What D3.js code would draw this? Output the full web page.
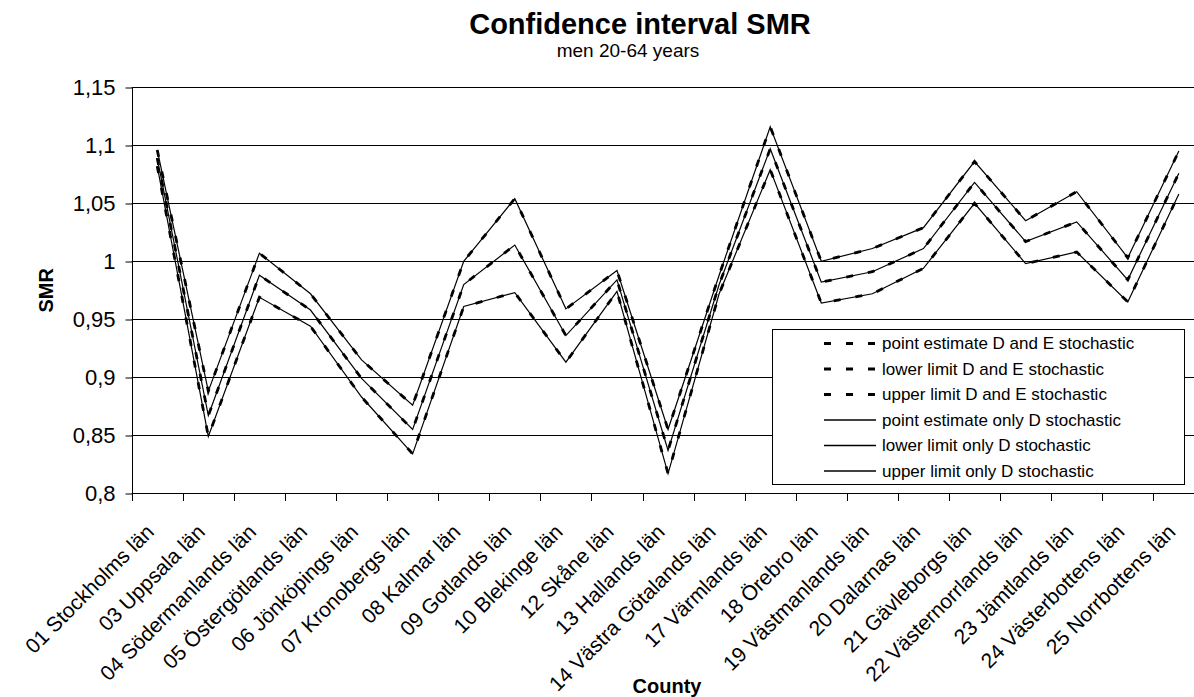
<!DOCTYPE html>
<html>
<head>
<meta charset="utf-8">
<script src="https://cdn.jsdelivr.net/npm/d3@7"></script>
<style>
  body { margin: 0; background: #fff; }
  svg { display: block; font-family: "Liberation Sans", Arial, sans-serif; }
</style>
</head>
<body>
<div id="chart"></div>
<script>
const counties = ["01 Stockholms län", "03 Uppsala län", "04 Södermanlands län", "05 Östergötlands län",
    "06 Jönköpings län", "07 Kronobergs län", "08 Kalmar län", "09 Gotlands län", "10 Blekinge län",
    "12 Skåne län", "13 Hallands län", "14 Västra Götalands län", "17 Värmlands län", "18 Örebro län",
    "19 Västmanlands län", "20 Dalarnas län", "21 Gävleborgs län", "22 Västernorrlands län",
    "23 Jämtlands län", "24 Västerbottens län", "25 Norrbottens län"];

const pointEst = [1.089, 0.867, 0.988, 0.958, 0.899, 0.855, 0.980, 1.014, 0.936, 0.984, 0.837,
    0.980, 1.097, 0.982, 0.991, 1.011, 1.068, 1.017, 1.034, 0.984, 1.076];
const lowerLim = [1.082, 0.849, 0.969, 0.944, 0.883, 0.834, 0.961, 0.973, 0.913, 0.974, 0.817,
    0.972, 1.079, 0.964, 0.972, 0.994, 1.050, 0.998, 1.008, 0.965, 1.058];
const upperLim = [1.096, 0.888, 1.007, 0.972, 0.915, 0.876, 1.000, 1.054, 0.959, 0.992, 0.855,
    0.988, 1.116, 1.000, 1.011, 1.029, 1.086, 1.035, 1.060, 1.003, 1.095];

const yTicks = [0.8, 0.85, 0.9, 0.95, 1, 1.05, 1.1, 1.15];

// series in legend order; the D-and-E ones are dashed
const series = [
    { name: "point estimate D and E stochastic", values: pointEst, dashed: true },
    { name: "lower limit D and E stochastic", values: lowerLim, dashed: true },
    { name: "upper limit D and E stochastic", values: upperLim, dashed: true },
    { name: "point estimate only D stochastic", values: pointEst, dashed: false },
    { name: "lower limit only D stochastic", values: lowerLim, dashed: false },
    { name: "upper limit only D stochastic", values: upperLim, dashed: false }
];

const width = 1194, height = 697;
const plot = { left: 131.7, right: 1204.4, top: 87.3, bottom: 493.3 };

const svg = d3.select("#chart").append("svg")
    .attr("width", width)
    .attr("height", height);

const x = d3.scaleBand()
    .domain(counties)
    .range([plot.left, plot.right]);

const y = d3.scaleLinear()
    .domain([0.8, 1.15])
    .range([plot.bottom, plot.top]);

const fmt = d => String(+d.toFixed(2)).replace(".", ",");

// gridlines
svg.append("g")
    .selectAll("line")
    .data(yTicks)
    .join("line")
    .attr("x1", plot.left)
    .attr("x2", plot.right)
    .attr("y1", d => Math.round(y(d)) + 0.5)
    .attr("y2", d => Math.round(y(d)) + 0.5)
    .attr("stroke", "#000")
    .attr("stroke-width", 1);

// y axis
const yAxis = svg.append("g")
    .attr("transform", `translate(${Math.round(plot.left) + 0.5},0)`)
    .call(d3.axisLeft(y).tickValues(yTicks).tickFormat(fmt).tickSize(7).tickPadding(10));
yAxis.select(".domain").attr("stroke", "#000").attr("d", `M0,${plot.top}V${Math.round(plot.bottom) + 0.5}`);
yAxis.selectAll(".tick line").attr("stroke", "#000")
    .attr("transform", d => `translate(0,${Math.round(y(d)) + 0.5 - y(d)})`);
yAxis.selectAll(".tick text")
    .attr("fill", "#000")
    .style("font-size", "22px")
    .style("font-family", "'Liberation Sans', Arial, sans-serif");

// x axis: ticks on category boundaries
const bounds = counties.map(c => x(c)).concat([plot.right]);
svg.append("g")
    .selectAll("line")
    .data(bounds)
    .join("line")
    .attr("x1", d => Math.round(d) + 0.5)
    .attr("x2", d => Math.round(d) + 0.5)
    .attr("y1", Math.round(plot.bottom))
    .attr("y2", Math.round(plot.bottom) + 8)
    .attr("stroke", "#000");

svg.append("g")
    .selectAll("text")
    .data(counties)
    .join("text")
    .attr("transform", d => `translate(${x(d) + x.bandwidth() / 2 - 2},${plot.bottom + 40}) rotate(-45)`)
    .attr("text-anchor", "end")
    .style("font-size", "21px")
    .text(d => d);

// lines
const line = d3.line()
    .x((d, i) => x(counties[i]) + x.bandwidth() / 2)
    .y(d => y(d));

svg.append("g")
    .selectAll("path")
    .data(series)
    .join("path")
    .attr("d", d => line(d.values))
    .attr("fill", "none")
    .attr("stroke", "#000")
    .attr("stroke-width", d => d.dashed ? 2.8 : 1.2)
    .attr("stroke-dasharray", d => d.dashed ? "7,15" : null)
    .attr("stroke-linejoin", "miter");

// legend
const legend = svg.append("g");
legend.append("rect")
    .attr("x", 772.5)
    .attr("y", 329.5)
    .attr("width", 412)
    .attr("height", 155)
    .attr("fill", "#fff")
    .attr("stroke", "#000");

const rows = legend.selectAll("g.row")
    .data(series)
    .join("g")
    .attr("class", "row")
    .attr("transform", (d, i) => `translate(0,${343.5 + i * 25.5})`);

rows.append("line")
    .attr("x1", 824)
    .attr("x2", 876)
    .attr("stroke", "#000")
    .attr("stroke-width", d => d.dashed ? 3 : 1.3)
    .attr("stroke-dasharray", d => d.dashed ? "7,15" : null);

rows.append("text")
    .attr("x", 882)
    .attr("dy", "0.35em")
    .style("font-size", "17px")
    .text(d => d.name);

// titles
svg.append("text")
    .attr("x", 640)
    .attr("y", 34)
    .attr("text-anchor", "middle")
    .style("font-size", "29px")
    .style("font-weight", "bold")
    .text("Confidence interval SMR");

svg.append("text")
    .attr("x", 628)
    .attr("y", 57)
    .attr("text-anchor", "middle")
    .style("font-size", "19px")
    .text("men 20-64 years");

svg.append("text")
    .attr("transform", `translate(46,${(plot.top + plot.bottom) / 2}) rotate(-90)`)
    .attr("text-anchor", "middle")
    .attr("dy", "0.35em")
    .style("font-size", "20px")
    .style("font-weight", "bold")
    .text("SMR");

svg.append("text")
    .attr("x", 667)
    .attr("y", 693)
    .attr("text-anchor", "middle")
    .style("font-size", "20px")
    .style("font-weight", "bold")
    .text("County");
</script>
</body>
</html>
